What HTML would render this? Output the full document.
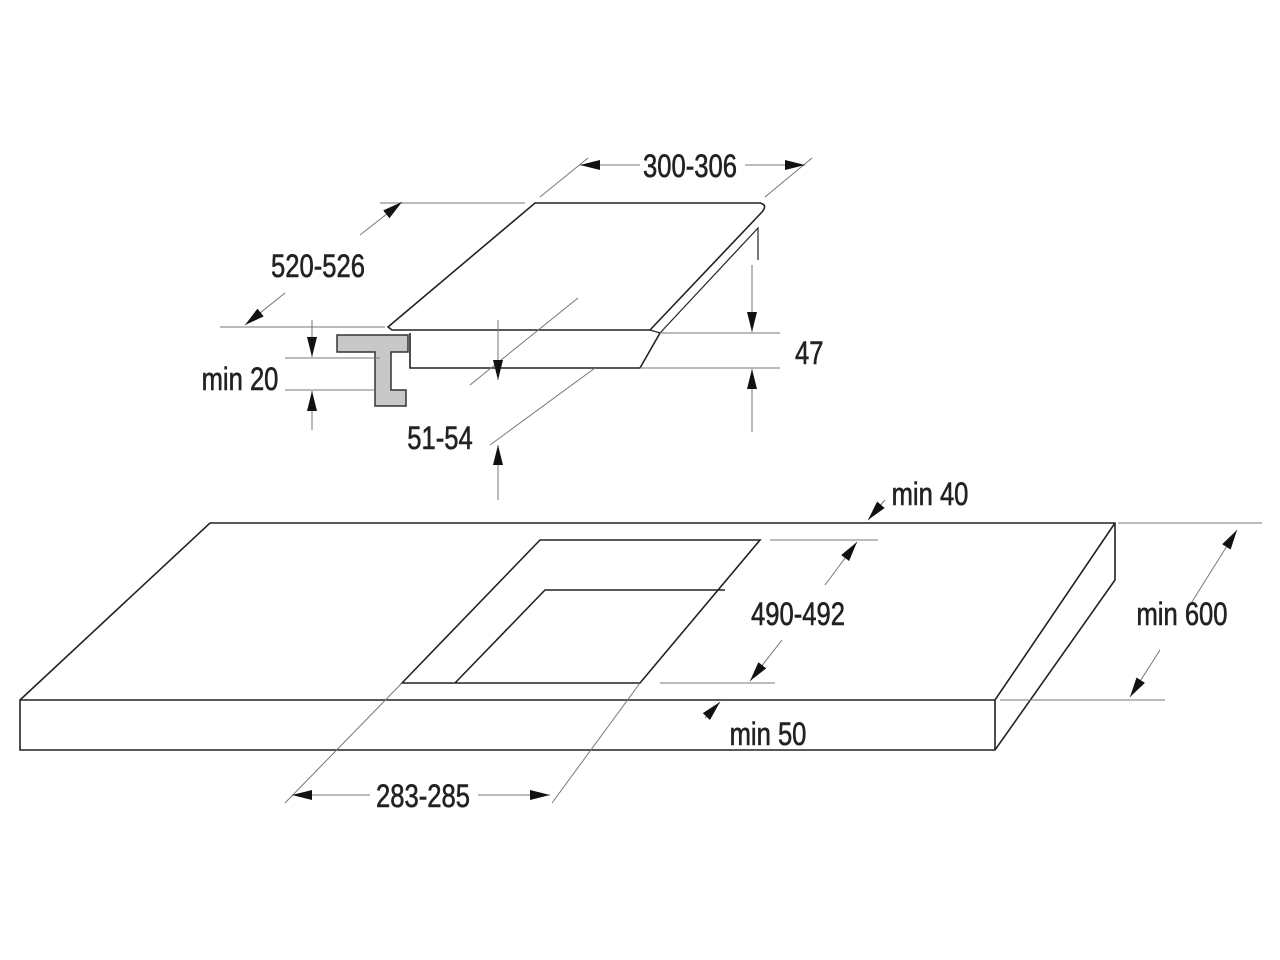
<!DOCTYPE html>
<html><head><meta charset="utf-8"><style>
body{margin:0;background:#fff;width:1280px;height:960px;overflow:hidden}
svg{display:block}
text{font-family:"Liberation Sans",sans-serif;font-size:32px;fill:#222;stroke:#222;stroke-width:0.6}
</style></head><body>
<svg width="1280" height="960" viewBox="0 0 1280 960">
<defs>
<marker id="a" viewBox="0 0 20 10" refX="20" refY="5" markerWidth="20" markerHeight="10" markerUnits="userSpaceOnUse" orient="auto"><path d="M0,0 L20,5 L0,10 Z" fill="#111"/></marker>
</defs>
<g fill="none" stroke="#222" stroke-width="1.6">
<path d="M210,523 L1115,523 L1115,580 L995,750 L20,750 L20,700 L210,523 Z"/>
<path d="M20,700 L995,700 L1115,523 M995,700 L995,750"/>
<path d="M402,683 L540,540 L760,540 L640,683 Z"/>
<path d="M455,683 L545,590 L725,590"/>
<path d="M388,327 L535,203 L760,203 Q768,205 762,212 L650,330 L392,330 Z"/>
<path d="M650,330 L660,333 L758,228 L758,260" stroke-width="1.2"/>
<path d="M660,333 L640,368 L410,368 L410,333"/>
</g>
<path d="M337,335 L408,335 L408,352 L391,352 L391,390 L406,390 L406,406 L375,406 L375,352 L337,352 Z" fill="#c8c8c8" stroke="#333" stroke-width="1.5"/>
<g fill="none" stroke="#777" stroke-width="1">
<path d="M588,158 L540,197 M812,158 L765,197"/>
<path d="M640,165 L580,165" marker-end="url(#a)"/><path d="M745,165 L805,165" marker-end="url(#a)"/>
<path d="M380,203 L525,203 M220,327 L385,327"/>
<path d="M360,235 L402,202" marker-end="url(#a)"/><path d="M285,293 L245,325" marker-end="url(#a)"/>
<path d="M660,333 L780,333 M640,368 L780,368"/>
<path d="M752,265 L752,332" marker-end="url(#a)"/><path d="M752,432 L752,369" marker-end="url(#a)"/>
<path d="M285,358 L380,358 M285,390 L375,390"/>
<path d="M312,320 L312,357" marker-end="url(#a)"/><path d="M312,430 L312,391" marker-end="url(#a)"/>
<path d="M578,298 L470,385 M595,368 L490,445"/>
<path d="M498,320 L498,380" marker-end="url(#a)"/><path d="M498,500 L498,445" marker-end="url(#a)"/>
<path d="M885,500 L868,520" marker-end="url(#a)"/>
<path d="M770,540 L878,540 M660,683 L775,683"/>
<path d="M825,585 L857,542" marker-end="url(#a)"/><path d="M782,640 L750,681" marker-end="url(#a)"/>
<path d="M1118,523 L1262,523 M1000,700 L1165,700"/>
<path d="M1190,605 L1237,530" marker-end="url(#a)"/><path d="M1160,650 L1130,697" marker-end="url(#a)"/>
<path d="M705,718 L720,702" marker-end="url(#a)"/>
<path d="M402,683 L285,803 M640,683 L552,803"/>
<path d="M370,795 L292,795" marker-end="url(#a)"/><path d="M478,795 L550,795" marker-end="url(#a)"/>
</g>
<g>
<text transform="translate(690,177) scale(0.8,1)" text-anchor="middle">300-306</text>
<text transform="translate(318,277) scale(0.8,1)" text-anchor="middle">520-526</text>
<text transform="translate(795,364) scale(0.8,1)">47</text>
<text transform="translate(240,390) scale(0.8,1)" text-anchor="middle">min 20</text>
<text transform="translate(440,449) scale(0.8,1)" text-anchor="middle">51-54</text>
<text transform="translate(930,505) scale(0.8,1)" text-anchor="middle">min 40</text>
<text transform="translate(798,625) scale(0.8,1)" text-anchor="middle">490-492</text>
<text transform="translate(1182,625) scale(0.8,1)" text-anchor="middle">min 600</text>
<text transform="translate(768,745) scale(0.8,1)" text-anchor="middle">min 50</text>
<text transform="translate(423,807) scale(0.8,1)" text-anchor="middle">283-285</text>
</g>
</svg>
</body></html>
